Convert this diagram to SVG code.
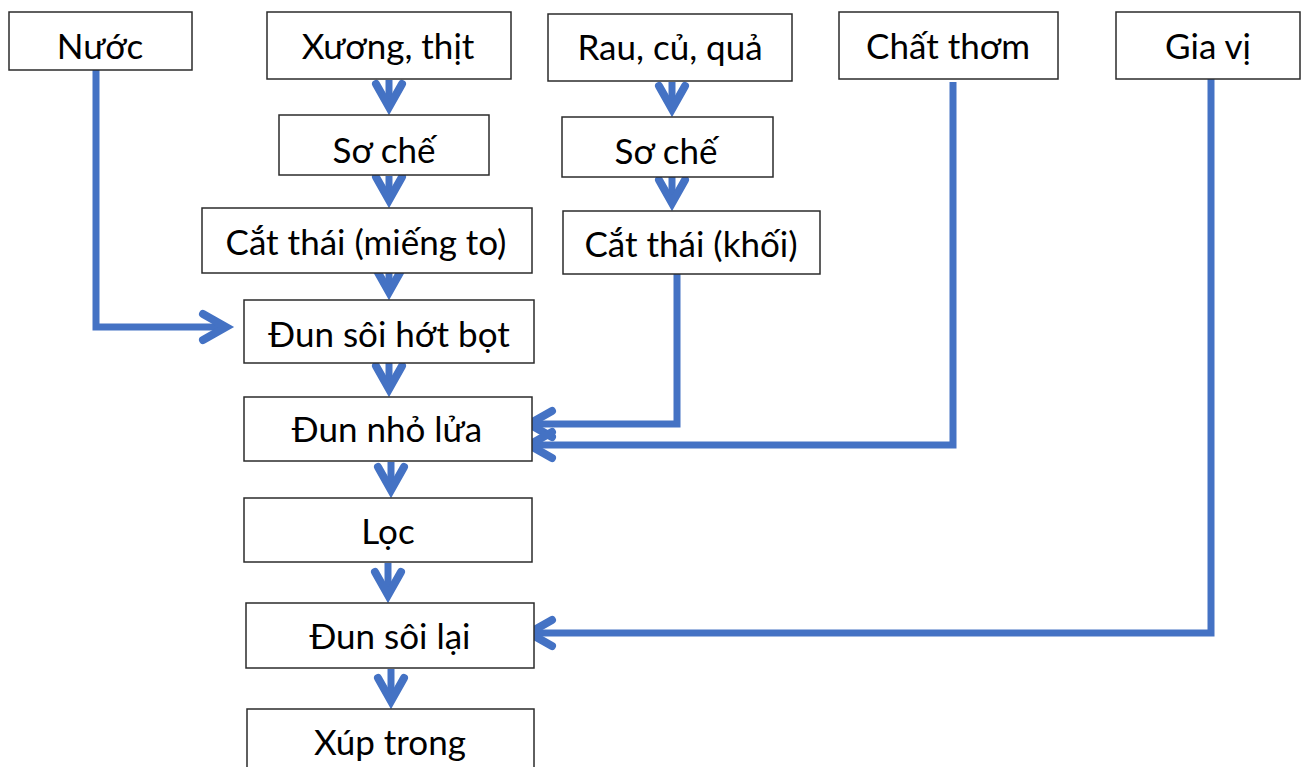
<svg xmlns="http://www.w3.org/2000/svg" width="1308" height="767" viewBox="0 0 1308 767">
  <style>
    .box rect { fill: #ffffff; stroke: #2b2b2b; stroke-width: 1.5; }
    .box text { font-family: Lato, "Liberation Sans", sans-serif; font-size: 35px; fill: #000000; text-anchor: middle; }
    .conn path { fill: none; stroke: #4472C4; stroke-width: 7; stroke-linejoin: miter; marker-end: url(#head); }
  </style>
  <defs>
    <marker id="head" markerUnits="userSpaceOnUse" markerWidth="60" markerHeight="60" viewBox="-40 -30 60 60" refX="0" refY="0" orient="auto" overflow="visible">
      <path d="M-23,-13 L0,0 L-23,13" fill="none" stroke="#4472C4" stroke-width="8" stroke-linecap="round" stroke-linejoin="miter"/>
    </marker>
  </defs>

  <!-- connectors -->
  <g id="connectors" class="conn">
    <path d="M389,80 V107"/>
    <path d="M389,176 V200"/>
    <path d="M389,263 V292"/>
    <path d="M389,362 V389"/>
    <path d="M391,462 V490"/>
    <path d="M388,563 V595"/>
    <path d="M391,669 V701"/>
    <path d="M672,82 V109"/>
    <path d="M672,177 V203"/>
    <path d="M96,70 V327 H226"/>
    <path d="M677,274 V424 H529"/>
    <path d="M953,82 V445 H529"/>
    <path d="M1211,79 V633 H529"/>
  </g>

  <!-- ingredient inputs -->
  <g id="nuoc" class="box"><rect x="9" y="12" width="183" height="58"/><text x="100" y="59">Nước</text></g>
  <g id="xuong-thit" class="box"><rect x="267" y="12" width="244" height="67"/><text x="388" y="59">Xương, thịt</text></g>
  <g id="rau-cu-qua" class="box"><rect x="548" y="14" width="244" height="67"/><text x="670" y="60">Rau, củ, quả</text></g>
  <g id="chat-thom" class="box"><rect x="839" y="12" width="219" height="67"/><text x="948" y="59">Chất thơm</text></g>
  <g id="gia-vi" class="box"><rect x="1116" y="12" width="184" height="67"/><text x="1208" y="59">Gia vị</text></g>

  <!-- preparation -->
  <g id="so-che-1" class="box"><rect x="279" y="115" width="210" height="60"/><text x="384" y="163">Sơ chế</text></g>
  <g id="so-che-2" class="box"><rect x="562" y="117" width="211" height="60"/><text x="666" y="164">Sơ chế</text></g>
  <g id="cat-thai-mieng" class="box"><rect x="202" y="208" width="330" height="65"/><text x="366" y="255">Cắt thái (miếng to)</text></g>
  <g id="cat-thai-khoi" class="box"><rect x="563" y="211" width="257" height="63"/><text x="691" y="257">Cắt thái (khối)</text></g>

  <!-- cooking steps -->
  <g id="dun-soi-hot-bot" class="box"><rect x="244" y="300" width="290" height="63"/><text x="389" y="347">Đun sôi hớt bọt</text></g>
  <g id="dun-nho-lua" class="box"><rect x="244" y="397" width="288" height="64"/><text x="387" y="442">Đun nhỏ lửa</text></g>
  <g id="loc" class="box"><rect x="244" y="498" width="288" height="64"/><text x="388" y="544">Lọc</text></g>
  <g id="dun-soi-lai" class="box"><rect x="246" y="603" width="288" height="65"/><text x="390" y="649">Đun sôi lại</text></g>
  <g id="xup-trong" class="box"><rect x="247" y="709" width="287" height="80"/><text x="390" y="755">Xúp trong</text></g>
</svg>
